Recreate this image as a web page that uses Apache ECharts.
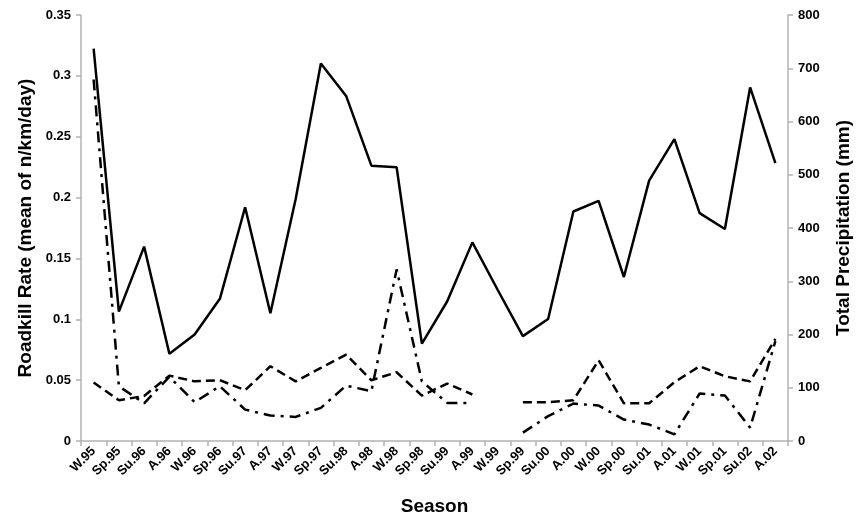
<!DOCTYPE html>
<html>
<head>
<meta charset="utf-8">
<script src="https://cdn.jsdelivr.net/npm/echarts@6/dist/echarts.min.js"></script>
<style>
  html, body { margin: 0; padding: 0; background: #fff; }
  #chart { width: 856px; height: 519px; }
</style>
</head>
<body>
<div id="chart"></div>
<script>
var seasons = ['W.95', 'Sp.95', 'Su.96', 'A.96', 'W.96', 'Sp.96', 'Su.97', 'A.97', 'W.97', 'Sp.97',
  'Su.98', 'A.98', 'W.98', 'Sp.98', 'Su.99', 'A.99', 'W.99', 'Sp.99', 'Su.00', 'A.00',
  'W.00', 'Sp.00', 'Su.01', 'A.01', 'W.01', 'Sp.01', 'Su.02', 'A.02'];

// total precipitation (mm), right axis
var precipitation = [737, 243, 365, 164, 200, 267, 439, 240, 454, 709,
  648, 517, 514, 183, 262, 373, 284, 197, 229, 431,
  451, 308, 489, 567, 428, 398, 664, 522];

// roadkill rates, left axis (null = no data)
var rateDashed = [0.048, 0.0335, 0.037, 0.0537, 0.049, 0.050, 0.0417, 0.0614, 0.049, 0.060,
  0.071, 0.0499, 0.0565, 0.0373, 0.0472, 0.0382, null, 0.0319, 0.0319, 0.0335,
  0.0663, 0.031, 0.031, 0.0483, 0.0614, 0.0532, 0.049, 0.0839];

var rateDashDot = [0.297, 0.045, 0.031, 0.0527, 0.0319, 0.045, 0.0258, 0.0209, 0.0198, 0.0272,
  0.0455, 0.0409, 0.141, 0.049, 0.0313, 0.0313, null, 0.0069, 0.0204, 0.0308,
  0.0291, 0.0176, 0.0135, 0.0055, 0.039, 0.0373, 0.011, 0.082];

var leftTicks = [0, 0.05, 0.1, 0.15, 0.2, 0.25, 0.3, 0.35];
var rightTicks = [0, 100, 200, 300, 400, 500, 600, 700, 800];

var chart = echarts.init(document.getElementById('chart'));

var axisGray = '#b3b3b3';
var labelFont = {
  color: '#000',
  fontFamily: 'Liberation Sans, Arial, sans-serif',
  fontWeight: 'bold',
  fontSize: 13
};

chart.setOption({
  backgroundColor: '#fff',
  animation: false,
  grid: {
    left: 81,
    right: 68,
    top: 15,
    bottom: 78,
    outerBoundsMode: 'none'
  },
  xAxis: {
    type: 'category',
    data: seasons,
    boundaryGap: true,
    name: 'Season',
    nameLocation: 'middle',
    nameGap: 56,
    nameTextStyle: {
      color: '#000',
      fontFamily: 'Liberation Sans, Arial, sans-serif',
      fontWeight: 'bold',
      fontSize: 19
    },
    axisLine: { lineStyle: { color: axisGray, width: 1.5 } },
    axisTick: { show: true, length: 5, lineStyle: { color: axisGray, width: 1.5 } },
    axisLabel: Object.assign({ rotate: 45, margin: 8, interval: 0 }, labelFont),
    splitLine: { show: false }
  },
  yAxis: [{
    type: 'value',
    position: 'left',
    min: leftTicks[0],
    max: leftTicks[leftTicks.length - 1],
    interval: 0.05,
    name: 'Roadkill Rate (mean of n/km/day)',
    nameLocation: 'middle',
    nameRotate: 90,
    nameGap: 46,
    nameTextStyle: {
      color: '#000',
      fontFamily: 'Liberation Sans, Arial, sans-serif',
      fontWeight: 'bold',
      fontSize: 19
    },
    axisLine: { show: true, lineStyle: { color: axisGray, width: 1.5 } },
    axisTick: { show: true, length: 5, lineStyle: { color: axisGray, width: 1.5 } },
    axisLabel: Object.assign({ margin: 10, formatter: function (v) { return String(+v.toFixed(2)); } }, labelFont),
    splitLine: { show: false }
  }, {
    type: 'value',
    position: 'right',
    min: rightTicks[0],
    max: rightTicks[rightTicks.length - 1],
    interval: 100,
    name: 'Total Precipitation (mm)',
    nameLocation: 'middle',
    nameRotate: 90,
    nameGap: 46,
    nameTextStyle: {
      color: '#000',
      fontFamily: 'Liberation Sans, Arial, sans-serif',
      fontWeight: 'bold',
      fontSize: 19
    },
    axisLine: { show: true, lineStyle: { color: axisGray, width: 1.5 } },
    axisTick: { show: true, length: 5, lineStyle: { color: axisGray, width: 1.5 } },
    axisLabel: Object.assign({ margin: 10 }, labelFont),
    splitLine: { show: false }
  }],
  series: [{
    name: 'Total Precipitation',
    type: 'line',
    yAxisIndex: 1,
    data: precipitation,
    symbol: 'none',
    lineStyle: { color: '#000', width: 2.5 }
  }, {
    name: 'Rate A',
    type: 'line',
    yAxisIndex: 0,
    data: rateDashed,
    symbol: 'none',
    connectNulls: false,
    lineStyle: { color: '#000', width: 2.5, type: [9, 5] }
  }, {
    name: 'Rate B',
    type: 'line',
    yAxisIndex: 0,
    data: rateDashDot,
    symbol: 'none',
    connectNulls: false,
    lineStyle: { color: '#000', width: 2.5, type: [11, 6, 3, 6] }
  }]
});
</script>
</body>
</html>
